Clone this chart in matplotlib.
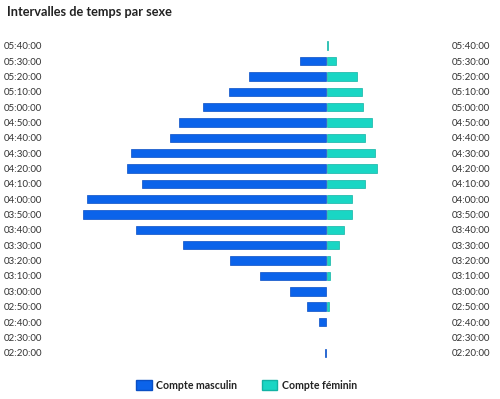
import matplotlib
matplotlib.use("Agg")
import matplotlib.pyplot as plt
from matplotlib.patches import Patch
import numpy as np

# Time intervals, top to bottom
intervals = ["05:40:00", "05:30:00", "05:20:00", "05:10:00", "05:00:00",
             "04:50:00", "04:40:00", "04:30:00", "04:20:00", "04:10:00",
             "04:00:00", "03:50:00", "03:40:00", "03:30:00", "03:20:00",
             "03:10:00", "03:00:00", "02:50:00", "02:40:00", "02:30:00",
             "02:20:00"]
# Counts (arbitrary units, no axis shown)
male = [0, 26, 77, 97, 123, 147, 156, 195, 199, 184,
        239, 243, 190, 143, 96, 66, 36, 19, 7, 0, 1]
female = [1, 9, 30, 35, 36, 45, 38, 48, 50, 38,
          25, 25, 17, 12, 2.5, 2.5, 0, 2, 0, 0, 0]

BLUE = "#0b63ea"
BLUE_EDGE = "#0a4fc4"
TEAL = "#19d6c4"
TEAL_EDGE = "#12b3a4"

plt.rcParams['font.family'] = ['Lato', 'DejaVu Sans']

fig = plt.figure(figsize=(5, 3.99), dpi=100)
ax = fig.add_axes([50 / 500, 0.0967, 394 / 500, 0.808])

y = np.arange(len(intervals))
m = np.array(male, dtype=float)
f = np.array(female, dtype=float)
# skip empty bars so no stray edge lines show
ax.barh(y[m > 0], -m[m > 0], height=0.55, color=BLUE, edgecolor=BLUE_EDGE, linewidth=0.5)
ax.barh(y[f > 0], f[f > 0], height=0.55, left=1.0, color=TEAL, edgecolor=TEAL_EDGE, linewidth=0.5)

ax.set_xlim(-276.5, 117.5)
ax.set_ylim(len(intervals) - 0.5, -0.5)
ax.set_yticks(y)
ax.set_yticklabels(intervals)
ax.set_xticks([])
ax.tick_params(axis='y', length=0, labelsize=7.0, colors='#333333', pad=5.8,
               labelleft=True, labelright=True)
for spine in ax.spines.values():
    spine.set_visible(False)

fig.text(7 / 500, 1 - 12 / 399, "Intervalles de temps par sexe", fontsize=9.2,
         fontweight='bold', color='#222222', va='center', ha='left')

handles = [Patch(facecolor=BLUE, edgecolor=BLUE_EDGE, label="Compte masculin"),
           Patch(facecolor=TEAL, edgecolor=TEAL_EDGE, label="Compte féminin")]
leg = fig.legend(handles=handles, loc='center', bbox_to_anchor=(0.493, 0.035),
                 ncol=2, frameon=False, fontsize=7.6, handlelength=1.45,
                 handleheight=1.1, columnspacing=2.3, handletextpad=0.45)
for t in leg.get_texts():
    t.set_fontweight('bold')
    t.set_color('#222222')

fig.savefig("out.png", dpi=100)
